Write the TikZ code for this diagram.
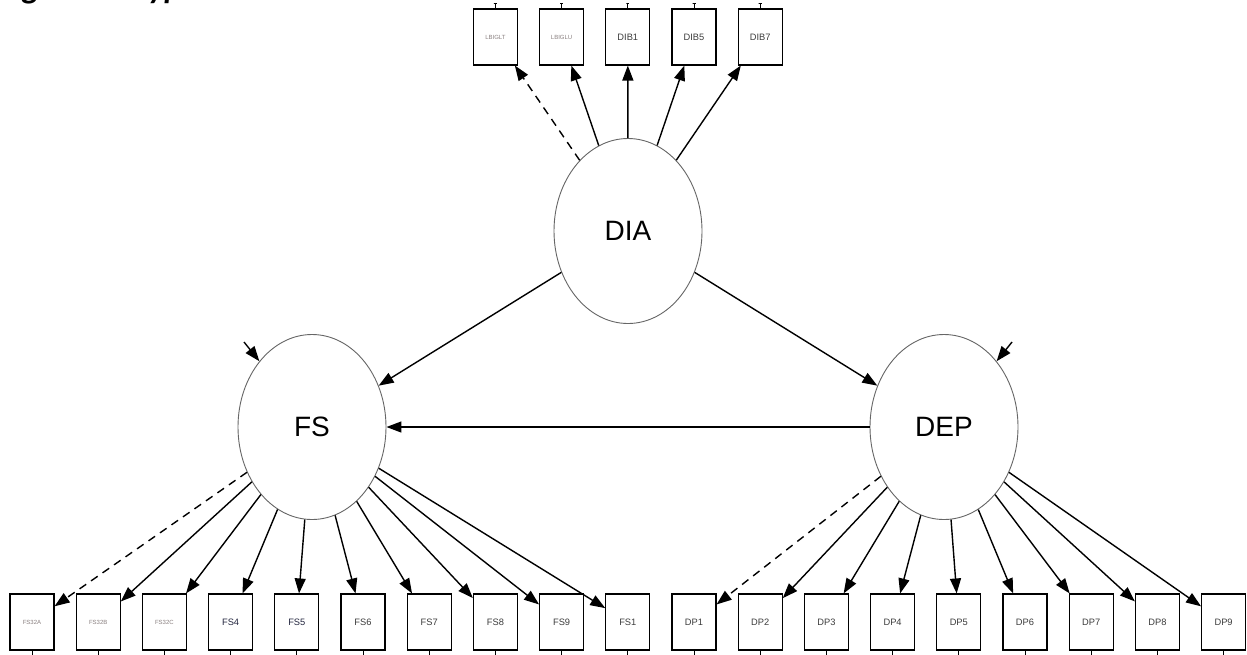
\documentclass[tikz,border=0pt]{standalone}
\usepackage{fontspec}
\setmainfont{Liberation Sans}
\newfontfamily\titlefont{Carlito}
\usetikzlibrary{shapes.geometric,arrows.meta}

\definecolor{labelgray}{HTML}{3C3C3C}
\definecolor{labelnavy}{HTML}{23263F}
\definecolor{faint}{HTML}{8A8080}

\begin{document}
\begin{tikzpicture}[x=1pt,y=-1pt,
  latent/.style={ellipse, draw=black!60, line width=0.9pt, minimum width=148pt,
    minimum height=185pt, inner sep=0pt, font=\fontsize{28}{30}\selectfont},
  obs/.style={rectangle, draw=black, line width=1.1pt, minimum width=44pt,
    minimum height=56pt, inner sep=0pt, text=labelgray, font=\fontsize{9.3}{10}\selectfont},
  tinylabel/.style={text=faint, font=\fontsize{6}{6}\selectfont},
  path/.style={-{Triangle[length=15pt,width=11pt]}, line width=1.4pt},
  dashpath/.style={path, dash pattern=on 8pt off 6pt},
  stem/.style={line width=0.9pt}
]
\useasboundingbox (0,0) rectangle (1247,654);
\fill[white] (0,0) rectangle (1247,654);

% caption running off the top edge
\begin{scope}
  \clip (0,0) rectangle (1247,654);
  \node[anchor=base west, inner sep=0pt,
        font=\titlefont\bfseries\itshape\fontsize{33}{36}\selectfont] (caption) at (-1,-2)
        {Figure 1. Hypothesized Model};
\end{scope}

% latent variables
\node[latent] (DIA) at (628,231) {DIA};
\node[latent] (FS)  at (312,427) {FS};
\node[latent] (DEP) at (944,427) {DEP};

% indicators of DIA
\node[obs, tinylabel] (t0) at (495.4,37) {LBIGLT};
\node[obs, tinylabel] (t1) at (561.6,37) {LBIGLU};
\node[obs] (t2) at (627.8,37) {DIB1};
\node[obs] (t3) at (694.0,37) {DIB5};
\node[obs] (t4) at (760.2,37) {DIB7};

% indicators of FS and DEP
\node[obs, tinylabel] (b0) at (32.0,622) {FS32A};
\node[obs, tinylabel] (b1) at (98.2,622) {FS32B};
\node[obs, tinylabel] (b2) at (164.4,622) {FS32C};
\node[obs, text=labelnavy] (b3) at (230.6,622) {FS4};
\node[obs, text=labelnavy] (b4) at (296.8,622) {FS5};
\node[obs] (b5) at (363.0,622) {FS6};
\node[obs] (b6) at (429.2,622) {FS7};
\node[obs] (b7) at (495.4,622) {FS8};
\node[obs] (b8) at (561.6,622) {FS9};
\node[obs] (b9) at (627.8,622) {FS1};
\node[obs] (b10) at (694.0,622) {DP1};
\node[obs] (b11) at (760.2,622) {DP2};
\node[obs] (b12) at (826.4,622) {DP3};
\node[obs] (b13) at (892.6,622) {DP4};
\node[obs] (b14) at (958.8,622) {DP5};
\node[obs] (b15) at (1025.0,622) {DP6};
\node[obs] (b16) at (1091.2,622) {DP7};
\node[obs] (b17) at (1157.4,622) {DP8};
\node[obs] (b18) at (1223.6,622) {DP9};

% error-term stubs
\foreach \i in {0,...,4} {
  \draw[stem] (t\i.north) -- ++(0,-5) -- ++(-1.5,0) -- ++(3,0);
}
\foreach \i in {0,...,18} {
  \draw[stem] (b\i.south) -- ++(0,5) -- ++(-2,0);
}
\coordinate (eFS)  at (244,342);
\coordinate (eDEP) at (1012,342);
\draw[path] (eFS) -- (FS);
\draw[path] (eDEP) -- (DEP);

% structural paths
\draw[path] (DIA) -- (FS);
\draw[path] (DIA) -- (DEP);
\draw[path] (DEP) -- (FS);

% loadings
\draw[dashpath] (DIA) -- (t0);
\foreach \i in {1,...,4} { \draw[path] (DIA) -- (t\i); }
\draw[dashpath] (FS) -- (b0);
\foreach \i in {1,...,9} { \draw[path] (FS) -- (b\i); }
\draw[dashpath] (DEP) -- (b10);
\foreach \i in {11,...,18} { \draw[path] (DEP) -- (b\i); }
\end{tikzpicture}
\end{document}
